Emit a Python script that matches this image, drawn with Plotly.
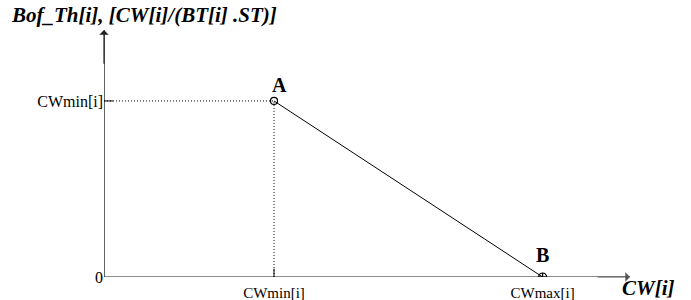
import plotly.graph_objects as go

# Data (abstract units: CWmin = 1)
point_names = ["A", "B"]
cw_values = [1.0, 2.58]          # CWmin[i], CWmax[i]
bof_values = [1.0, 0.0]          # Bof_Th at A, B
x_tick_vals = [1.0, 2.58]
x_tick_labels = ["CWmin[i]", "CWmax[i]"]
y_tick_vals = [0.0, 1.0]
y_tick_labels = ["0", "CWmin[i]"]

X_MAX = 3.094
Y_MAX = 1.403
SERIF = "Liberation Serif"

W, H = 691, 300
L, R, T, B = 104, 61, 30, 23
PW, PH = W - L - R, H - T - B

fig = go.Figure()

# dotted guides from A to axes
fig.add_trace(go.Scatter(x=[0, cw_values[0], cw_values[0]], y=[bof_values[0], bof_values[0], 0],
                         mode="lines", line=dict(color="black", width=1, dash="1px,2px"),
                         hoverinfo="skip", showlegend=False))
# main line A-B
fig.add_trace(go.Scatter(x=cw_values, y=bof_values, mode="lines",
                         line=dict(color="black", width=1), showlegend=False))
# tick marks crossing the axes
fig.add_trace(go.Scatter(x=[x_tick_vals[0]], y=[0], mode="markers",
                         marker=dict(symbol="line-ns-open", size=12, color="black", line=dict(width=1, color="black")),
                         hoverinfo="skip", showlegend=False))
fig.add_trace(go.Scatter(x=[0], y=[y_tick_vals[1]], mode="markers",
                         marker=dict(symbol="line-ew-open", size=13, color="black", line=dict(width=1, color="black")),
                         hoverinfo="skip", showlegend=False))
# markers
fig.add_trace(go.Scatter(x=[cw_values[0]], y=[bof_values[0]], mode="markers",
                         marker=dict(symbol="circle-open", size=7, color="black", line=dict(width=1.2)),
                         showlegend=False))
fig.add_trace(go.Scatter(x=[cw_values[1]], y=[bof_values[1]], mode="markers",
                         marker=dict(symbol="circle-cross-open", size=8, color="black", line=dict(width=1.2)),
                         showlegend=False))

annotations = []
for name, xv, yv, dx, dy in zip(point_names, cw_values, bof_values, [5, 0], [-16, -22]):
    annotations.append(dict(x=xv, y=yv, xref="x", yref="y", text="<b>" + name + "</b>",
                            showarrow=False, xshift=dx, yshift=-dy,
                            font=dict(family=SERIF, size=20, color="black")))
# axis arrows
annotations.append(dict(x=X_MAX, y=0, ax=X_MAX - 0.2, ay=0, xref="x", yref="y", axref="x", ayref="y",
                        showarrow=True, arrowhead=1, arrowsize=1.3, arrowwidth=1.2, arrowcolor="#555", text=""))
annotations.append(dict(x=0, y=Y_MAX, ax=0, ay=Y_MAX - 0.2, xref="x", yref="y", axref="x", ayref="y",
                        showarrow=True, arrowhead=1, arrowsize=1.3, arrowwidth=1.2, arrowcolor="#222", text=""))
# axis titles (positions given in figure pixels, converted to paper units)
annotations.append(dict(x=(9 - L) / PW, y=1 + (T - 15) / PH, xref="paper", yref="paper",
                        text="<b><i>Bof_Th[i], [CW[i]/(BT[i] .ST)]</i></b>",
                        showarrow=False, xanchor="left", yanchor="middle",
                        font=dict(family=SERIF, size=21, color="black")))
annotations.append(dict(x=(620 - L) / PW, y=-(288 - (H - B)) / PH, xref="paper", yref="paper",
                        text="<b><i>CW[i]</i></b>",
                        showarrow=False, xanchor="left", yanchor="middle",
                        font=dict(family=SERIF, size=21, color="black")))

fig.update_layout(
    width=W, height=H,
    margin=dict(l=L, r=R, t=T, b=B, autoexpand=False),
    paper_bgcolor="white", plot_bgcolor="white",
    xaxis=dict(range=[0, X_MAX], showgrid=False, zeroline=False, showline=False, automargin=False,
               tickmode="array", tickvals=x_tick_vals, ticktext=x_tick_labels,
               ticks="outside", ticklen=2, tickcolor="rgba(0,0,0,0)",
               tickfont=dict(family=SERIF, size=15, color="black")),
    yaxis=dict(range=[0, Y_MAX], showgrid=False, zeroline=False, showline=False, automargin=False,
               tickmode="array", tickvals=y_tick_vals, ticktext=y_tick_labels,
               ticks="", tickcolor="rgba(0,0,0,0)",
               tickfont=dict(family=SERIF, size=16, color="black")),
    annotations=annotations,
    showlegend=False,
)
# axis lines as shapes in data coordinates
fig.add_shape(type="line", x0=0, y0=0, x1=X_MAX, y1=0, xref="x", yref="y", line=dict(color="#666", width=1.6), layer="below")
fig.add_shape(type="line", x0=0, y0=0, x1=0, y1=Y_MAX, xref="x", yref="y", line=dict(color="#222", width=1.4), layer="below")

fig.write_html("out.html", config={"displayModeBar": False},
               post_script="document.body.style.margin='0';document.body.style.overflow='hidden';")
